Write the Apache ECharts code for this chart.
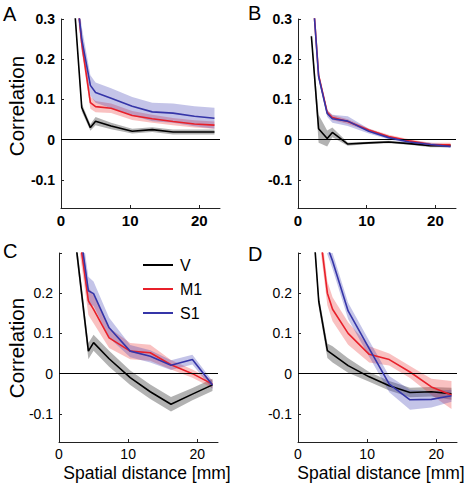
<!DOCTYPE html>
<html><head><meta charset="utf-8">
<script src="https://cdn.jsdelivr.net/npm/echarts@6/dist/echarts.min.js"></script>
<style>html,body{margin:0;padding:0;background:#fff}#c{width:469px;height:485px}</style>
</head><body><div id="c"></div><script>
// Shared distance bins [mm]
const dist = [1.95, 3.0, 4.25, 5.0, 7.25, 10.3, 13.2, 16.2, 19.3, 22.2];
const xTicks = [0, 10, 20];
const yTicks = [-0.1, 0, 0.1, 0.2, 0.3];
const legendNames = ['V', 'M1', 'S1'];

// Panel A
const A_V     = [0.33, 0.08, 0.03, 0.046, 0.034, 0.021, 0.025, 0.019, 0.019, 0.019];
const A_Verr  = [0.01, 0.01, 0.008, 0.01, 0.008, 0.006, 0.006, 0.006, 0.006, 0.006];
const A_M1    = [0.42, 0.24, 0.092, 0.082, 0.078, 0.06, 0.052, 0.045, 0.039, 0.036];
const A_M1err = [0.02, 0.02, 0.015, 0.014, 0.012, 0.011, 0.01, 0.009, 0.009, 0.009];
const A_S1    = [0.41, 0.25, 0.135, 0.117, 0.103, 0.083, 0.069, 0.066, 0.058, 0.053];
const A_S1err = [0.03, 0.03, 0.025, 0.025, 0.025, 0.023, 0.023, 0.024, 0.025, 0.026];
// Panel B
const B_V     = [0.257, 0.027, 0.003, 0.018, -0.011, -0.008, -0.006, -0.01, -0.015, -0.015];
const B_Verr  = [0.008, 0.035, 0.02, 0.012, 0.004, 0.003, 0.003, 0.003, 0.004, 0.004];
const B_M1    = [0.41, 0.16, 0.068, 0.055, 0.045, 0.024, 0.008, -0.003, -0.012, -0.013];
const B_M1err = [0.01, 0.008, 0.006, 0.006, 0.006, 0.004, 0.004, 0.004, 0.004, 0.005];
const B_S1    = [0.41, 0.157, 0.065, 0.052, 0.046, 0.021, 0.005, -0.006, -0.012, -0.017];
const B_S1err = [0.01, 0.008, 0.008, 0.01, 0.012, 0.006, 0.004, 0.004, 0.004, 0.004];
// Panel C
const C_V     = [0.395, 0.24, 0.056, 0.077, 0.037, -0.01, -0.045, -0.076, -0.051, -0.028];
const C_Verr  = [0.02, 0.02, 0.02, 0.02, 0.02, 0.018, 0.018, 0.018, 0.015, 0.015];
const C_M1    = [0.47, 0.337, 0.181, 0.16, 0.089, 0.056, 0.052, 0.022, 0.0, -0.026];
const C_M1err = [0.035, 0.035, 0.035, 0.035, 0.025, 0.02, 0.02, 0.012, 0.01, 0.01];
const C_S1    = [0.49, 0.36, 0.206, 0.199, 0.114, 0.056, 0.043, 0.021, 0.035, -0.028];
const C_S1err = [0.035, 0.035, 0.035, 0.03, 0.025, 0.015, 0.015, 0.012, 0.012, 0.01];
// Panel D
const D_V     = [0.43, 0.18, 0.057, 0.048, 0.02, -0.008, -0.03, -0.047, -0.045, -0.05];
const D_Verr  = [0.015, 0.015, 0.018, 0.02, 0.018, 0.012, 0.012, 0.012, 0.012, 0.015];
const D_M1    = [0.55, 0.375, 0.2, 0.16, 0.1, 0.048, 0.035, 0.004, -0.033, -0.053];
const D_M1err = [0.03, 0.03, 0.03, 0.03, 0.028, 0.02, 0.015, 0.015, 0.02, 0.035];
const D_S1    = [0.5, 0.42, 0.316, 0.28, 0.156, 0.062, -0.026, -0.065, -0.064, -0.055];
const D_S1err = [0.02, 0.02, 0.02, 0.02, 0.02, 0.02, 0.02, 0.025, 0.02, 0.015];

const FONT = 'Liberation Sans, Arial, Helvetica, sans-serif';
const lineColors = { V: '#000000', M1: '#e8202a', S1: '#3535a8' };
const bandColors = { V: 'rgba(0,0,0,0.3)', M1: 'rgba(235,50,50,0.3)', S1: 'rgba(60,60,180,0.3)' };

const panels = [
  { id: 'A', grid: { left: 61, top: 19, width: 159, height: 189 }, bold: true, show03: true,
    data: { V: [A_V, A_Verr], M1: [A_M1, A_M1err], S1: [A_S1, A_S1err] } },
  { id: 'B', grid: { left: 298, top: 19, width: 158, height: 189 }, bold: true, show03: true,
    data: { V: [B_V, B_Verr], M1: [B_M1, B_M1err], S1: [B_S1, B_S1err] } },
  { id: 'C', grid: { left: 59, top: 253, width: 159, height: 189 }, bold: false, show03: false,
    data: { V: [C_V, C_Verr], M1: [C_M1, C_M1err], S1: [C_S1, C_S1err] } },
  { id: 'D', grid: { left: 298, top: 253, width: 159, height: 189 }, bold: false, show03: false,
    data: { V: [D_V, D_Verr], M1: [D_M1, D_M1err], S1: [D_S1, D_S1err] } }
];

function bandRenderer(rows, color) {
  return function (params, api) {
    if (params.dataIndex !== 0) return null;
    const upper = rows.map(r => api.coord([r[0], r[2]]));
    const lower = rows.map(r => api.coord([r[0], r[1]])).reverse();
    const cs = params.coordSys;
    return {
      type: 'polygon',
      shape: { points: upper.concat(lower) },
      style: { fill: color, stroke: null },
      clipPath: { type: 'rect', shape: { x: cs.x, y: cs.y, width: cs.width, height: cs.height } },
      silent: true
    };
  };
}

const grids = [], xAxes = [], yAxes = [], series = [];
panels.forEach((p, i) => {
  grids.push(Object.assign({ containLabel: false }, p.grid));
  xAxes.push({
    type: 'value', gridIndex: i, min: 0, max: 23, interval: 10,
    splitLine: { show: false },
    axisLine: { show: true, onZero: false, lineStyle: { color: '#222', width: 1 } },
    axisTick: { show: true, inside: true, length: 3, lineStyle: { color: '#222' } },
    axisLabel: {
      margin: p.bold ? 5 : 5, color: '#000', fontFamily: FONT, fontSize: p.bold ? 15 : 14,
      fontWeight: p.bold ? 'bold' : 'normal', showMaxLabel: false,
      formatter: v => (xTicks.indexOf(Math.round(v)) >= 0 && Math.abs(v - Math.round(v)) < 1e-6) ? String(Math.round(v)) : ''
    }
  });
  yAxes.push({
    type: 'value', gridIndex: i, min: -0.17, max: 0.3, splitNumber: 5,
    splitLine: { show: false },
    axisLine: { show: true, onZero: false, lineStyle: { color: '#222', width: 1 } },
    axisTick: { show: true, inside: true, length: 3, lineStyle: { color: '#222' } },
    axisLabel: {
      margin: 6, color: '#000', fontFamily: FONT, fontSize: 14,
      fontWeight: p.bold ? 'bold' : 'normal', showMinLabel: false,
      formatter: v => {
        const r = Math.round(v * 10);
        if (Math.abs(v * 10 - r) > 1e-6) return '';
        if (r === 3 && !p.show03) return '';
        const t = yTicks.find(t => Math.abs(t - r / 10) < 1e-9);
        if (t === undefined) return '';
        return r === 0 ? '0' : String(t);
      }
    }
  });
  // bands
  legendNames.forEach(name => {
    const [vals, errs] = p.data[name];
    const rows = dist.map((x, k) => [x, vals[k] - errs[k], vals[k] + errs[k]]);
    series.push({
      type: 'custom', name: p.id + '-' + name + '-band', xAxisIndex: i, yAxisIndex: i,
      data: rows, encode: { x: 0, y: [1, 2] }, clip: true, silent: true, z: 1,
      renderItem: bandRenderer(rows, bandColors[name])
    });
  });
  // lines
  legendNames.forEach((name, j) => {
    const [vals] = p.data[name];
    const s = {
      type: 'line', name: name, xAxisIndex: i, yAxisIndex: i,
      data: dist.map((x, k) => [x, vals[k]]),
      symbol: 'none', color: lineColors[name],
      lineStyle: { color: lineColors[name], width: 1.6 }, z: 3 + j, clip: true
    };
    if (j === 0) {
      s.markLine = {
        silent: true, symbol: ['none', 'none'], label: { show: false },
        lineStyle: { color: '#000', width: 1, type: 'solid' },
        data: [{ yAxis: 0 }], animation: false
      };
    }
    series.push(s);
  });
});

const graphic = [];
const letters = [['A', 3, 14], ['B', 248, 13], ['C', 3, 251], ['D', 248, 254]];
letters.forEach(([t, x, y]) => graphic.push({
  type: 'text', x: x, y: y,
  style: { text: t, fontFamily: FONT, fontSize: 20, fill: '#000', align: 'left', verticalAlign: 'middle' }
}));
[[16.5, 106], [16.5, 348]].forEach(([x, y]) => graphic.push({
  type: 'text', x: x, y: y, rotation: Math.PI / 2,
  style: { text: 'Correlation', fontFamily: FONT, fontSize: 20.5, fill: '#000', align: 'center', verticalAlign: 'middle' }
}));
[[147, 473], [381, 473]].forEach(([x, y]) => graphic.push({
  type: 'text', x: x, y: y,
  style: { text: 'Spatial distance [mm]', fontFamily: FONT, fontSize: 17.5, fill: '#000', align: 'center', verticalAlign: 'middle' }
}));

const chart = echarts.init(document.getElementById('c'), null, { renderer: 'svg' });
chart.setOption({
  animation: false,
  backgroundColor: '#fff',
  grid: grids, xAxis: xAxes, yAxis: yAxes, series: series, graphic: graphic,
  legend: {
    data: legendNames.map(n => ({ name: n, icon: 'rect' })),
    orient: 'vertical', left: 143, top: 257, padding: 0,
    itemWidth: 30, itemHeight: 2, itemGap: 8, selectedMode: false,
    textStyle: { fontFamily: FONT, fontSize: 16, color: '#000', lineHeight: 14, padding: [0, 0, 0, 2] }
  }
});
</script></body></html>
